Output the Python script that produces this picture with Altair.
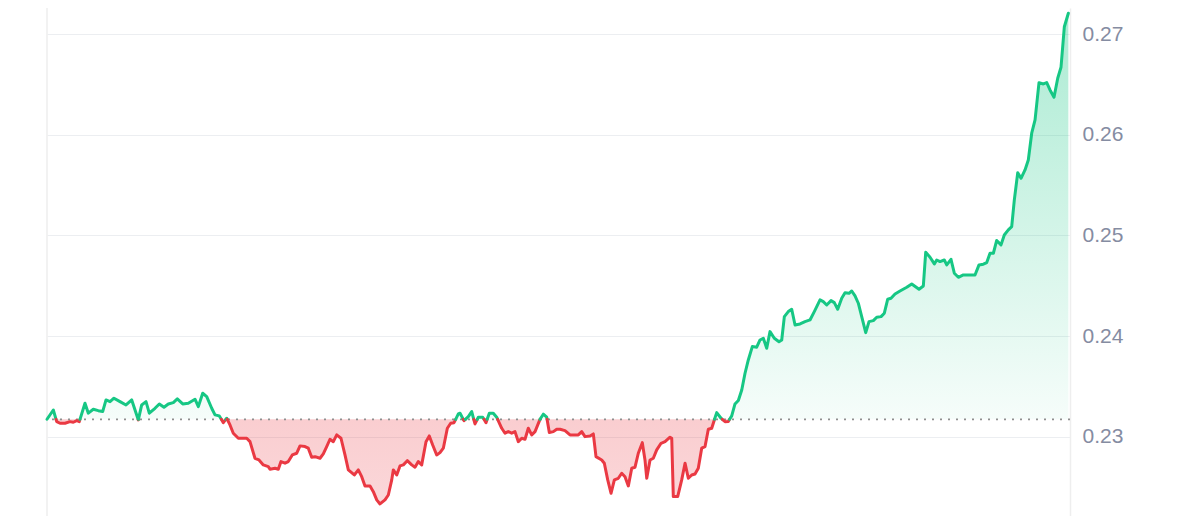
import altair as alt
import pandas as pd

# time in hours since start (7-day window), price in USD
times = [
    0, 1.04, 1.60, 2.14, 2.96, 3.78, 4.33, 4.89, 5.31, 6.25,
    6.80, 7.62, 8.44, 9.16, 9.71, 10.37, 11.02, 12.01, 13.00, 13.94,
    15.02, 15.58, 16.29, 16.83, 17.77, 18.48, 19.25, 19.96, 20.78, 21.44,
    22.33, 23.25, 24.35, 24.90, 25.62, 26.28, 27.10, 27.64, 28.35, 29.01,
    29.57, 30.11, 30.65, 31.48, 32.86, 33.40, 34.22, 34.88, 35.59, 36.41,
    36.69, 37.52, 38.06, 38.50, 39.16, 39.70, 40.36, 41.09, 41.63, 42.45,
    42.99, 43.55, 44.10, 44.92, 45.46, 46.02, 46.56, 47.11, 47.67, 48.37,
    49.03, 49.58, 50.56, 51.22, 51.78, 52.32, 53.15, 53.69, 54.25, 54.79,
    55.61, 56.16, 56.72, 56.98, 57.54, 58.08, 58.63, 59.28, 60.01, 60.55,
    61.09, 61.65, 62.36, 62.90, 63.46, 64.12, 64.66, 65.21, 65.87, 66.42,
    66.97, 67.68, 67.96, 68.61, 69.32, 69.88, 70.42, 70.97, 71.69, 72.23,
    72.78, 73.43, 73.99, 74.82, 75.36, 75.90, 76.46, 77.00, 77.55, 78.11,
    78.65, 79.19, 79.75, 80.30, 81.12, 81.66, 82.22, 82.65, 83.31, 83.87,
    84.41, 85.23, 86.05, 86.88, 87.42, 87.98, 88.52, 89.35, 89.89, 90.33,
    91.27, 91.70, 92.26, 92.80, 93.35, 94.00, 94.56, 95.10, 95.65, 96.21,
    96.75, 97.29, 97.95, 98.39, 98.68, 99.22, 99.76, 100.32, 101.03, 101.69,
    102.51, 102.79, 103.05, 103.77, 104.43, 104.98, 105.52, 106.08, 106.62, 107.16,
    107.72, 108.27, 108.81, 109.37, 109.80, 110.19, 110.90, 111.56, 112.10, 112.66,
    113.20, 113.75, 114.31, 114.85, 115.39, 116.05, 116.77, 117.32, 117.86, 118.42,
    118.96, 119.67, 120.44, 120.89, 121.32, 121.97, 122.53, 123.08, 123.90, 124.72,
    125.54, 126.25, 127.19, 127.73, 128.29, 129.00, 129.54, 130.10, 130.76, 131.30,
    131.96, 132.41, 132.95, 133.49, 134.05, 134.71, 135.25, 135.96, 136.52, 137.23,
    137.77, 138.33, 138.87, 139.53, 140.35, 141.46, 142.28, 143.48, 144.19, 144.58,
    145.29, 146.00, 146.39, 146.93, 147.64, 148.04, 148.74, 149.29, 149.95, 150.77,
    152.69, 153.35, 154.06, 154.62, 155.16, 155.71, 156.26, 156.97, 157.51, 158.17,
    158.73, 159.16, 159.72, 160.26, 160.92, 161.46, 162.02, 162.57, 163.22, 163.93,
    164.49, 165.03, 165.69, 166.30, 166.84, 167.39, 168.05,
]

prices = [
    0.23173, 0.23265, 0.23149, 0.23133, 0.23133, 0.23149, 0.23143, 0.23159, 0.23149, 0.23332,
    0.23233, 0.23272, 0.23258, 0.23249, 0.23365, 0.23348, 0.23382, 0.23348, 0.23315, 0.23365,
    0.23166, 0.23315, 0.23348, 0.23233, 0.23282, 0.23325, 0.23292, 0.23325, 0.23338, 0.23375,
    0.23325, 0.23332, 0.23372, 0.23298, 0.23431, 0.23398, 0.23282, 0.23216, 0.23206, 0.23139,
    0.23183, 0.23116, 0.23034, 0.22984, 0.22984, 0.22950, 0.22785, 0.22768, 0.22719, 0.22702,
    0.22676, 0.22686, 0.22676, 0.22752, 0.22736, 0.22752, 0.22818, 0.22835, 0.22908, 0.22901,
    0.22885, 0.22795, 0.22801, 0.22785, 0.22828, 0.22901, 0.22974, 0.22950, 0.23017, 0.22984,
    0.22818, 0.22669, 0.22619, 0.22669, 0.22602, 0.22510, 0.22510, 0.22453, 0.22371, 0.22331,
    0.22371, 0.22420, 0.22570, 0.22669, 0.22619, 0.22709, 0.22719, 0.22761, 0.22719, 0.22696,
    0.22752, 0.22719, 0.22950, 0.23007, 0.22917, 0.22818, 0.22841, 0.22885, 0.23083, 0.23133,
    0.23139, 0.23226, 0.23233, 0.23159, 0.23199, 0.23249, 0.23126, 0.23193, 0.23193, 0.23139,
    0.23233, 0.23233, 0.23193, 0.23083, 0.23034, 0.23050, 0.23034, 0.23050, 0.22950, 0.22984,
    0.22974, 0.23083, 0.23017, 0.23050, 0.23173, 0.23223, 0.23193, 0.23040, 0.23050, 0.23074,
    0.23074, 0.23060, 0.23017, 0.23017, 0.23017, 0.23050, 0.23000, 0.23007, 0.23027, 0.22801,
    0.22768, 0.22736, 0.22570, 0.22437, 0.22570, 0.22586, 0.22636, 0.22602, 0.22510, 0.22686,
    0.22696, 0.22835, 0.22940, 0.22768, 0.22586, 0.22768, 0.22785, 0.22868, 0.22934, 0.22950,
    0.22994, 0.22984, 0.22404, 0.22404, 0.22570, 0.22736, 0.22586, 0.22619, 0.22629, 0.22686,
    0.22885, 0.22901, 0.23074, 0.23083, 0.23166, 0.23239, 0.23183, 0.23149, 0.23151, 0.23206,
    0.23325, 0.23360, 0.23464, 0.23630, 0.23762, 0.23895, 0.23889, 0.23961, 0.23978, 0.23879,
    0.24044, 0.23978, 0.23944, 0.23961, 0.24193, 0.24243, 0.24266, 0.24110, 0.24120, 0.24143,
    0.24160, 0.24243, 0.24359, 0.24342, 0.24309, 0.24352, 0.24332, 0.24266, 0.24376, 0.24431,
    0.24425, 0.24448, 0.24399, 0.24326, 0.24193, 0.24034, 0.24143, 0.24153, 0.24187, 0.24193,
    0.24227, 0.24366, 0.24376, 0.24418, 0.24448, 0.24485, 0.24518, 0.24465, 0.24498, 0.24833,
    0.24783, 0.24717, 0.24756, 0.24740, 0.24756, 0.24707, 0.24763, 0.24624, 0.24584, 0.24607,
    0.24607, 0.24707, 0.24714, 0.24730, 0.24823, 0.24823, 0.24950, 0.24906, 0.25005, 0.25055,
    0.25087, 0.25353, 0.25624, 0.25568, 0.25651, 0.25750, 0.26016, 0.26148, 0.26519, 0.26506,
    0.26519, 0.26446, 0.26374, 0.26563, 0.26672, 0.27075, 0.27209,
]

base_price = 0.23172          # opening price (dotted reference line)
y_ticks = [0.23, 0.24, 0.25, 0.26, 0.27]
x_domain = [0, 168.32]
y_domain = [0.22211, 0.27261]

GREEN = "#16c784"
RED = "#ea3943"

PLOT_W = 1023
PLOT_H = 508

# split the series into runs above / below the reference price
rows = []
seg = 0
for i, (t, p) in enumerate(zip(times, prices)):
    if i > 0:
        t0, p0 = times[i - 1], prices[i - 1]
        if (p0 - base_price) * (p - base_price) < 0:
            tc = t0 + (base_price - p0) * (t - t0) / (p - p0)
            rows.append({"t": tc, "p": base_price, "seg": seg})
            seg += 1
            rows.append({"t": tc, "p": base_price, "seg": seg})
    rows.append({"t": t, "p": p, "seg": seg})

df = pd.DataFrame(rows)
seg_up = (df.groupby("seg")["p"].max() > base_price)
df["side"] = df["seg"].map(lambda s: "up" if seg_up[s] else "down")
df["up"] = df["p"].clip(lower=base_price)
df["down"] = df["p"].clip(upper=base_price)
df["base"] = base_price

xenc = alt.X("t:Q", scale=alt.Scale(domain=x_domain, nice=False, zero=False), axis=None)
yscale = alt.Scale(domain=y_domain, nice=False, zero=False)
yaxis = alt.Axis(
    orient="right",
    values=y_ticks,
    format=".2f",
    grid=True,
    gridColor="#eceef1",
    gridWidth=1.2,
    domain=True,
    domainColor="#eeeeee",
    domainWidth=1.5,
    ticks=False,
    labelPadding=12,
    labelFontSize=21,
    labelFont="Liberation Sans",
    labelColor="#858ca2",
    title=None,
)

green_fill = alt.Gradient(
    gradient="linear",
    stops=[
        alt.GradientStop(color="rgba(22,199,132,0.36)", offset=0),
        alt.GradientStop(color="rgba(22,199,132,0.04)", offset=1),
    ],
    x1=0, x2=0, y1=0, y2=1,
)
red_fill = alt.Gradient(
    gradient="linear",
    stops=[
        alt.GradientStop(color="rgba(234,57,67,0.25)", offset=0),
        alt.GradientStop(color="rgba(234,57,67,0.20)", offset=1),
    ],
    x1=0, x2=0, y1=0, y2=1,
)

area_up = alt.Chart(df).mark_area(fill=green_fill).encode(
    x=xenc,
    y=alt.Y("up:Q", scale=yscale, axis=yaxis),
    y2="base:Q",
)

area_down = alt.Chart(df).mark_area(fill=red_fill).encode(
    x=xenc,
    y=alt.Y("down:Q", scale=yscale, axis=yaxis),
    y2="base:Q",
)

base_rule = alt.Chart(pd.DataFrame({"b": [base_price]})).mark_rule(
    color="#8f8f8f", strokeWidth=1.8, strokeDash=[2, 6]
).encode(y=alt.Y("b:Q", scale=yscale, axis=yaxis))

left_rule = alt.Chart(pd.DataFrame({"b": [base_price]})).mark_rule(
    color="#eeeeee", strokeWidth=1.5
).encode(x=alt.value(0), y=alt.value(0), y2=alt.value(PLOT_H))

lines = alt.Chart(df).mark_line(
    strokeWidth=3, strokeCap="round", strokeJoin="round"
).encode(
    x=xenc,
    y=alt.Y("p:Q", scale=yscale, axis=yaxis),
    detail="seg:N",
    color=alt.Color(
        "side:N",
        scale=alt.Scale(domain=["up", "down"], range=[GREEN, RED]),
        legend=None,
    ),
)

chart = (
    alt.layer(left_rule, area_up, area_down, base_rule, lines)
    .properties(
        width=PLOT_W,
        height=PLOT_H,
        padding={"left": 39, "top": 0, "right": 110, "bottom": 0},
        autosize=alt.AutoSizeParams(type="none"),
        background="white",
    )
    .configure_view(strokeWidth=0)
)

chart.save("out.html", embed_options={"renderer": "svg", "actions": False})
